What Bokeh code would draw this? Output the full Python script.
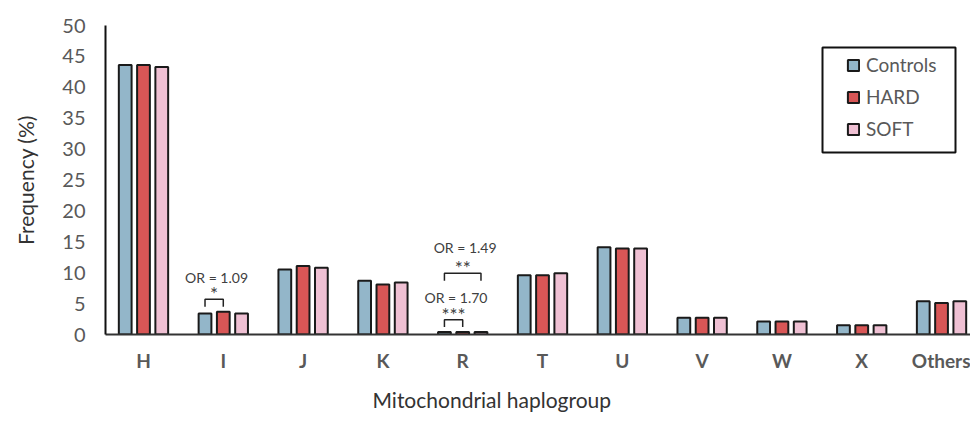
from bokeh.plotting import figure
from bokeh.models import (Range1d, FixedTicker, Title, ColumnDataSource, Legend, LegendItem,
                          BoxAnnotation)
from bokeh.core.properties import value
from bokeh.embed import file_html
from bokeh.resources import INLINE

categories = ["H", "I", "J", "K", "R", "T", "U", "V", "W", "X", "Others"]
controls = [43.6, 3.4, 10.5, 8.7, 0.4, 9.6, 14.1, 2.7, 2.1, 1.5, 5.4]
hard = [43.6, 3.7, 11.1, 8.1, 0.4, 9.6, 13.9, 2.7, 2.1, 1.5, 5.1]
soft = [43.3, 3.4, 10.8, 8.4, 0.4, 9.9, 13.9, 2.7, 2.1, 1.5, 5.4]
series_names = ["Controls", "HARD", "SOFT"]
y_ticks = [0, 5, 10, 15, 20, 25, 30, 35, 40, 45, 50]

# significance annotations: category, from-series, to-series, odds ratio, stars
ann_cat = ["I", "R", "R"]
ann_from = [0, 0, 0]
ann_to = [1, 1, 2]
ann_or = ["OR = 1.09", "OR = 1.70", "OR = 1.49"]
ann_stars = ["*", "***", "**"]

colors = ["#93B6C9", "#D85656", "#EFC0D3"]
FONT = "Lato"
GRAY = "#595959"

p = figure(width=970, height=422, output_backend="svg", toolbar_location=None,
           x_range=Range1d(-0.476, 10.363), y_range=Range1d(0, 50),
           min_border_left=105, min_border_right=0, min_border_top=25, min_border_bottom=88)
p.outline_line_color = None
p.xgrid.visible = False
p.ygrid.visible = False

offsets = [-0.229, 0.0, 0.229]
bar_w = 0.16
xs = list(range(len(categories)))
renderers = []
for vals, off, col, name in zip([controls, hard, soft], offsets, colors, series_names):
    src = ColumnDataSource(dict(x=[x + off for x in xs], top=vals))
    r = p.vbar(x="x", top="top", width=bar_w, bottom=0, source=src,
               fill_color=col, line_color="#1a1a1a", line_width=2)
    renderers.append((name, r))

# brackets
bx, by, lx, ly, sx, sy, txt_or, txt_st = [], [], [], [], [], [], [], []
series = [controls, hard, soft]
for c, f, t, o, s in zip(ann_cat, ann_from, ann_to, ann_or, ann_stars):
    i = categories.index(c)
    x0 = i + offsets[f]
    x1 = i + offsets[t]
    top = max(series[k][i] for k in range(f, t + 1))
    span = t - f
    lvl = top + 0.8 + (span - 1) * 7.5
    btop = lvl + 1.2
    bx.append([x0, x0, x1, x1])
    by.append([lvl, btop, btop, lvl])
    sx.append((x0 + x1) / 2)
    sy.append(btop + 0.9)
    lx.append((x0 + x1) / 2 + 0.03)
    ly.append(btop + 3.6 + 0.6 * (span - 1))
    txt_or.append(o)
    txt_st.append(s)

p.multi_line(xs=bx, ys=by, line_color="#222222", line_width=1.5)
p.text(x=sx, y=sy, text=txt_st, text_align="center", text_baseline="middle",
       text_font=value(FONT), text_font_size="19px", text_color="#404040")
p.text(x=lx, y=ly, text=txt_or, text_align="center", text_baseline="middle",
       text_font=value(FONT), text_font_size="14px", text_color="#404040")

# axes
p.xaxis.ticker = FixedTicker(ticks=xs)
p.xaxis.major_label_overrides = {i: c for i, c in enumerate(categories)}
p.xaxis.major_label_text_font = FONT
p.xaxis.major_label_text_font_style = "bold"
p.xaxis.major_label_text_font_size = "19px"
p.xaxis.major_label_text_color = GRAY
p.xaxis.major_label_standoff = 8
p.xaxis.major_tick_line_color = None
p.xaxis.minor_tick_line_color = None
p.xaxis.axis_line_color = "#333333"
p.xaxis.axis_line_width = 2

p.yaxis.ticker = FixedTicker(ticks=y_ticks)
p.yaxis.major_label_text_font = FONT
p.yaxis.major_label_text_font_size = "20px"
p.yaxis.major_label_text_color = GRAY
p.yaxis.major_label_standoff = 14
p.yaxis.major_tick_line_color = None
p.yaxis.minor_tick_line_color = None
p.yaxis.axis_line_color = "#111111"
p.yaxis.axis_line_width = 2
p.yaxis.axis_label = "Frequency (%)"
p.yaxis.axis_label_text_font = FONT
p.yaxis.axis_label_text_font_style = "normal"
p.yaxis.axis_label_text_font_size = "21px"
p.yaxis.axis_label_text_color = "#333333"
p.yaxis.axis_label_standoff = 21

xtitle = Title(text="Mitochondrial haplogroup", align="left", offset=267, standoff=20,
               text_font=FONT, text_font_size="21px", text_font_style="normal",
               text_color="#333333")
p.add_layout(xtitle, "below")

# legend frame
p.add_layout(BoxAnnotation(left=717, right=850, top=287, bottom=182,
                           left_units="screen", right_units="screen",
                           top_units="screen", bottom_units="screen",
                           fill_color="white", fill_alpha=1.0,
                           line_color="#111111", line_alpha=1.0, line_width=2))

legend = Legend(items=[LegendItem(label=n, renderers=[r]) for n, r in renderers],
                location=(741, 194), orientation="vertical",
                glyph_width=14, glyph_height=14, label_standoff=6, spacing=9,
                padding=5, margin=0,
                label_text_font=FONT, label_text_font_size="19px", label_text_color=GRAY,
                border_line_color=None, background_fill_alpha=0.0)
p.add_layout(legend)

open("out.html", "w").write(file_html(p, INLINE))
